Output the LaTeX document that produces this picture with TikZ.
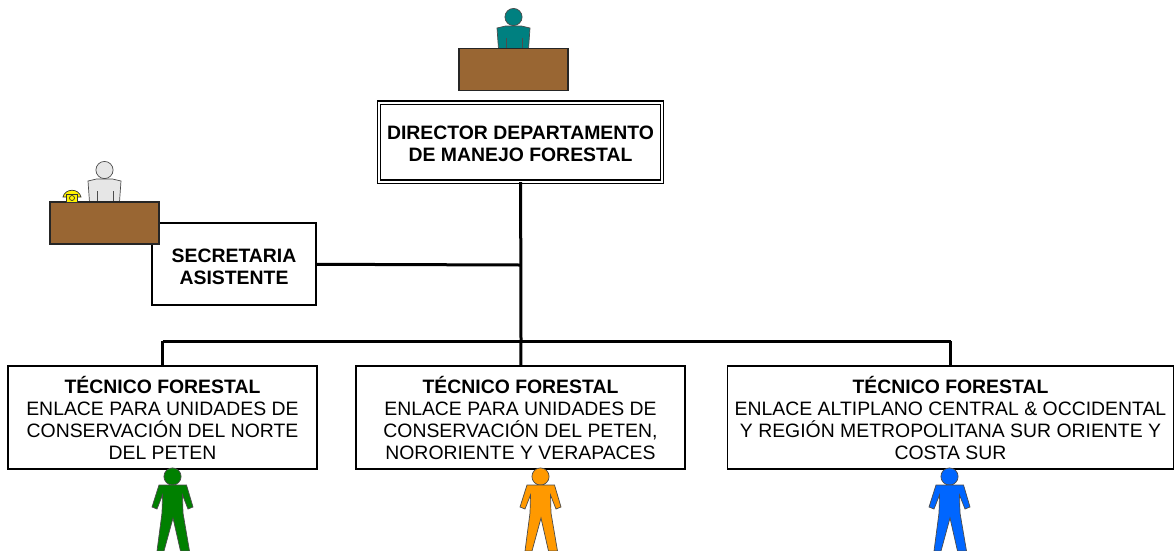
\documentclass[tikz,border=0pt]{standalone}
\usepackage{fontspec}
\setmainfont{Liberation Sans}
\tikzset{
  box/.style={draw, line width=1.2pt, fill=white, align=center, inner sep=0pt, font=\fontsize{19.4}{22}\selectfont},
  desk/.style={draw=black!85, line width=1.2pt, fill=deskbrown, minimum width=109pt, minimum height=42pt, inner sep=0pt},
  conn/.style={line width=3pt},
  sitter/.pic={
    \path[pic actions] (0,0) circle (8.6pt);
    \path[pic actions] (-16.5,11) -- (-8,9) -- (8,9) -- (16.5,11) -- (15,32) -- (-15,32) -- cycle;
    \draw (-7.5,21) -- (-7.5,32) (8.5,21) -- (8.5,32);
  },
  stander/.pic={
    \path[pic actions] (0,-0.5) circle (8.6pt);
    \path[pic actions] (-13.5,8) -- (14,8) -- (20.5,30) -- (15.5,32) -- (10,18) -- (10.5,36) -- (17,74) -- (8,74) -- (0.5,41)
      -- (-8.5,74) -- (-15.5,74) -- (-10.5,36) -- (-10,18) -- (-15.5,32) -- (-20.5,30) -- cycle;
  },
}
\definecolor{deskbrown}{HTML}{996633}
\definecolor{tealperson}{HTML}{008080}
\definecolor{grayperson}{HTML}{E6E6E6}
\definecolor{greenperson}{HTML}{008000}
\definecolor{orangeperson}{HTML}{FF9900}
\definecolor{blueperson}{HTML}{0066FF}
\begin{document}
\begin{tikzpicture}[x=1pt, y=-1pt]
  \useasboundingbox (0,0) rectangle (1174,550);

  \node[box, double, double distance=2pt, minimum width=283pt, minimum height=79pt] (director) at (520.5,142) {\rule{0pt}{18pt}\textbf{DIRECTOR DEPARTAMENTO}\\\textbf{DE MANEJO FORESTAL}};
  \node[box, minimum width=164pt, minimum height=82pt] (secretaria) at (234,264) {\rule{0pt}{20pt}\textbf{SECRETARIA}\\\textbf{ASISTENTE}};
  \node[box, minimum width=309pt, minimum height=103pt] (tecnicoa) at (162.5,417.5) {\textbf{TÉCNICO FORESTAL}\\ENLACE PARA UNIDADES DE\\CONSERVACIÓN DEL NORTE\\DEL PETEN};
  \node[box, minimum width=329pt, minimum height=103pt] (tecnicob) at (520.5,417.5) {\textbf{TÉCNICO FORESTAL}\\ENLACE PARA UNIDADES DE\\CONSERVACIÓN DEL PETEN,\\NORORIENTE Y VERAPACES};
  \node[box, minimum width=446pt, minimum height=103pt] (tecnicoc) at (950.5,417.5) {\textbf{TÉCNICO FORESTAL}\\ENLACE ALTIPLANO CENTRAL \& OCCIDENTAL\\Y REGIÓN METROPOLITANA SUR ORIENTE Y\\COSTA SUR};

  \coordinate (junta) at (521,265);
  \coordinate (bara) at (162.5,341);
  \coordinate (barb) at (521,341);
  \coordinate (barc) at (950.5,341);

  \path[conn] (director) edge (barb);
  \path[conn] (secretaria) edge (junta);
  \path[conn] (bara) edge (barc);
  \path[conn] (bara) edge (tecnicoa);
  \path[conn] (barb) edge (tecnicob);
  \path[conn] (barc) edge (tecnicoc);

  % people behind the desks
  \pic[fill=tealperson, draw=black!70, line width=0.7pt] (jefe) at (513.5,17) {sitter};
  \pic[fill=grayperson, draw=black!70, line width=0.7pt] (asistente) at (104.5,170) {sitter};
  \node[desk] (deskdirector) at (513.5,69.5) {};
  \node[desk] (desksecretaria) at (104.5,223) {};

  % phone
  \path[fill=yellow, draw=black!80, line width=0.7pt] (63,197) .. controls (65,188) and (79,188) .. (81,197) -- (77,197) -- (67,197) -- cycle;
  \node[draw=black!80, fill=yellow, line width=0.7pt, minimum width=11pt, minimum height=8pt, inner sep=0pt] (telefono) at (72,198) {};
  \node[draw=black!80, circle, line width=0.7pt, minimum size=5pt, inner sep=0pt] (dial) at (72,198) {};

  \pic[fill=greenperson, draw=black!70, line width=0.7pt] (persona a) at (172.5,477) {stander};
  \pic[fill=orangeperson, draw=black!70, line width=0.7pt] (persona b) at (540.5,477) {stander};
  \pic[fill=blueperson, draw=black!70, line width=0.7pt] (persona c) at (949.5,477) {stander};
\end{tikzpicture}
\end{document}
